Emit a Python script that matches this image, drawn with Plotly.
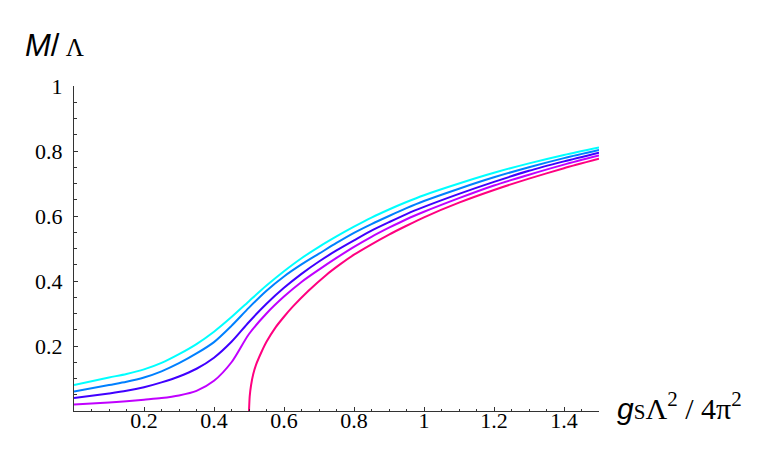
import plotly.graph_objects as go

# coupling g_S Lambda^2 / 4 pi^2
g = [0, 0.1, 0.15, 0.2, 0.25, 0.3, 0.35, 0.4, 0.45, 0.5, 0.55, 0.6, 0.65, 0.7, 0.75, 0.8, 0.85, 0.9, 0.95, 1.0, 1.1, 1.2, 1.3, 1.4, 1.5]

# M / Lambda for the four massive curves, top to bottom
m_cyan   = [0.080, 0.103, 0.114, 0.128, 0.148, 0.175, 0.206, 0.244, 0.289, 0.338, 0.386, 0.430, 0.470, 0.505, 0.537, 0.567, 0.595, 0.620, 0.643, 0.664, 0.700, 0.733, 0.762, 0.788, 0.811]
m_azure  = [0.060, 0.080, 0.090, 0.103, 0.122, 0.147, 0.177, 0.212, 0.262, 0.318, 0.370, 0.414, 0.451, 0.484, 0.517, 0.548, 0.575, 0.600, 0.624, 0.646, 0.684, 0.719, 0.750, 0.778, 0.803]
m_blue   = [0.040, 0.054, 0.062, 0.073, 0.088, 0.106, 0.130, 0.164, 0.213, 0.274, 0.330, 0.379, 0.422, 0.460, 0.494, 0.525, 0.555, 0.581, 0.606, 0.628, 0.668, 0.705, 0.739, 0.768, 0.795]
m_purple = [0.020, 0.026, 0.030, 0.035, 0.040, 0.048, 0.062, 0.093, 0.150, 0.237, 0.300, 0.352, 0.397, 0.435, 0.471, 0.505, 0.536, 0.564, 0.590, 0.613, 0.655, 0.694, 0.727, 0.758, 0.786]

# chiral limit curve starts at the critical coupling 0.5
g_chiral = [0.5, 0.502, 0.506, 0.512, 0.52, 0.535, 0.55, 0.575, 0.6, 0.625, 0.67, 0.72, 0.76, 0.8, 0.85, 0.9, 0.95, 1.0, 1.1, 1.2, 1.3, 1.4, 1.5]
m_chiral = [0.0, 0.045, 0.080, 0.113, 0.142, 0.180, 0.213, 0.256, 0.290, 0.321, 0.370, 0.418, 0.451, 0.481, 0.513, 0.543, 0.570, 0.596, 0.641, 0.680, 0.715, 0.747, 0.776]

colors = ["#00FFFF", "#0080FF", "#4000FF", "#C000FF", "#FF0080"]

fig = go.Figure()
for ys, c in zip([m_cyan, m_azure, m_blue, m_purple], colors[:4]):
    fig.add_trace(go.Scatter(x=g, y=ys, mode="lines", line=dict(color=c, width=2, shape="spline", smoothing=0.8),
                             showlegend=False, hoverinfo="skip"))
fig.add_trace(go.Scatter(x=g_chiral, y=m_chiral, mode="lines", line=dict(color=colors[4], width=2, shape="spline", smoothing=0.6),
                         showlegend=False, hoverinfo="skip"))

serif = "Liberation Serif"
tickfont = dict(family=serif, size=22, color="black")
axcol = "#333333"

fig.update_xaxes(range=[0, 1.5], showgrid=False, zeroline=False, showline=True, linecolor=axcol, linewidth=1,
                 tickvals=[0.2, 0.4, 0.6, 0.8, 1.0, 1.2, 1.4], ticktext=["0.2", "0.4", "0.6", "0.8", "1", "1.2", "1.4"],
                 ticks="inside", ticklen=4, tickcolor=axcol, tickfont=tickfont, ticklabelstandoff=-10,
                 minor=dict(dtick=0.05, tick0=0, ticks="inside", ticklen=2.5, tickcolor=axcol))
fig.update_yaxes(range=[0, 1], showgrid=False, zeroline=False, showline=True, linecolor=axcol, linewidth=1,
                 tickvals=[0.2, 0.4, 0.6, 0.8, 1.0], ticktext=["0.2", "0.4", "0.6", "0.8", "1"],
                 ticks="inside", ticklen=4, tickcolor=axcol, tickfont=tickfont, ticklabelstandoff=6,
                 minor=dict(dtick=0.05, tick0=0, ticks="inside", ticklen=2.5, tickcolor=axcol))

# axis labels placed like Mathematica's AxesLabel
fig.add_annotation(xref="paper", yref="paper", x=-0.097, y=1.125, xanchor="left", yanchor="middle", showarrow=False,
                   font=dict(family=serif, size=25),
                   text='<span style="font-family:Liberation Sans;font-size:31px"><i>M</i>/</span> Λ')
fig.add_annotation(xref="paper", yref="paper", x=1.03, y=0.015, xanchor="left", yanchor="middle", showarrow=False,
                   font=dict(family=serif, size=30),
                   text='<span style="font-family:Liberation Sans;font-size:30px"><i>g</i></span>'
                        '<span style="font-size:21px">S</span>Λ<sup>2</sup> / 4π<sup>2</sup>')

fig.update_layout(width=764, height=472, margin=dict(l=66, r=173, t=78, b=69),
                  paper_bgcolor="white", plot_bgcolor="white", font=dict(color="black"))

fig.write_html("out.html")
